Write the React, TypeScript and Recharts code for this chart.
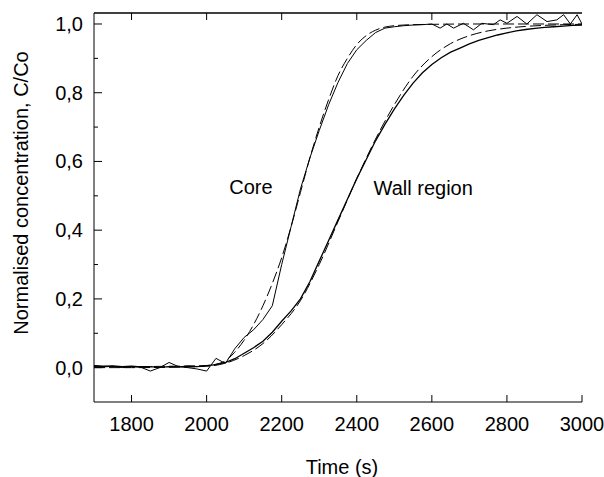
import { LineChart, Line, XAxis, YAxis, ReferenceDot } from "recharts";

// core (centre of bed) breakthrough
const coreTime = [1700, 1725, 1750, 1775, 1800, 1825, 1850, 1875, 1900, 1925, 1950, 1975, 2000, 2025, 2050, 2075, 2100, 2125, 2150, 2175, 2200, 2225, 2250, 2275, 2300, 2325, 2350, 2375, 2400, 2425, 2450, 2475, 2500, 2525, 2550, 2575, 2600, 2622, 2640, 2658, 2684, 2711, 2733, 2764, 2782, 2800, 2827, 2853, 2880, 2907, 2933, 2951, 2969, 2987, 3000];
const coreMeasured = [0.006, 0.002, 0.004, 0.0, 0.003, 0.001, -0.01, 0.0, 0.015, 0.003, 0.0, -0.004, -0.01, 0.027, 0.012, 0.055, 0.088, 0.11, 0.14, 0.18, 0.3, 0.41, 0.52, 0.61, 0.69, 0.765, 0.83, 0.885, 0.925, 0.952, 0.975, 0.988, 0.992, 0.995, 0.997, 0.998, 1.0, 0.988, 1.0, 0.988, 1.002, 0.983, 1.002, 0.998, 1.012, 1.002, 1.022, 1.0, 1.027, 1.007, 1.012, 1.027, 1.0, 1.027, 1.0];

const coreModelTime = [1700, 1800, 1900, 2000, 2025, 2050, 2075, 2100, 2125, 2150, 2175, 2200, 2225, 2250, 2275, 2300, 2325, 2350, 2375, 2400, 2425, 2450, 2475, 2500, 2525, 2550, 2600, 2700, 2800, 2900, 3000];
const coreModel = [0.003, 0.003, 0.004, 0.006, 0.01, 0.02, 0.045, 0.08, 0.125, 0.18, 0.245, 0.32, 0.41, 0.51, 0.61, 0.7, 0.78, 0.85, 0.9, 0.94, 0.966, 0.982, 0.991, 0.995, 0.997, 0.998, 0.999, 1.0, 1.0, 1.0, 1.0];

// wall region breakthrough
const wallTime = [1700, 1725, 1750, 1775, 1800, 1825, 1850, 1875, 1900, 1925, 1950, 1975, 2000, 2025, 2050, 2075, 2100, 2125, 2150, 2175, 2200, 2225, 2250, 2275, 2300, 2325, 2350, 2375, 2400, 2425, 2450, 2475, 2500, 2525, 2550, 2575, 2600, 2625, 2650, 2675, 2700, 2725, 2750, 2775, 2800, 2825, 2850, 2875, 2900, 2925, 2950, 2975, 3000];
const wallMeasured = [0.006, 0.004, 0.005, 0.003, 0.004, 0.002, 0.003, 0.001, 0.003, 0.002, 0.004, 0.003, 0.006, 0.009, 0.015, 0.026, 0.042, 0.058, 0.077, 0.103, 0.135, 0.165, 0.2, 0.25, 0.31, 0.37, 0.43, 0.49, 0.55, 0.605, 0.66, 0.708, 0.752, 0.792, 0.828, 0.858, 0.882, 0.902, 0.918, 0.93, 0.942, 0.952, 0.96, 0.968, 0.974, 0.98, 0.984, 0.987, 0.99, 0.992, 0.994, 0.996, 0.997];

const wallModelTime = [1700, 1800, 1900, 2000, 2050, 2100, 2150, 2200, 2250, 2300, 2350, 2400, 2450, 2500, 2550, 2600, 2650, 2700, 2750, 2800, 2850, 2900, 2950, 3000];
const wallModel = [0.0, 0.0, 0.001, 0.004, 0.013, 0.035, 0.07, 0.125, 0.195, 0.3, 0.425, 0.55, 0.665, 0.765, 0.848, 0.905, 0.943, 0.966, 0.98, 0.988, 0.993, 0.996, 0.998, 0.999];

const xTicks = [1800, 2000, 2200, 2400, 2600, 2800, 3000];
const topTicks = [1800, 2000, 2200, 2400, 2600, 2800];
const yTicks = [0, 0.1, 0.2, 0.3, 0.4, 0.5, 0.6, 0.7, 0.8, 0.9, 1.0];
const X_MIN = 1700;
const X_MAX = 3000;
const Y_MIN = -0.1;
const Y_MAX = 1.032;

// plot frame
const PLOT_LEFT = 94;
const PLOT_RIGHT = 582;
const PLOT_TOP = 13;
const frameX = (t: number) => PLOT_LEFT + ((t - X_MIN) / (X_MAX - X_MIN)) * (PLOT_RIGHT - PLOT_LEFT);

const toRows = (t: number[], v: number[]) => t.map((x, i) => ({ t: x, c: v[i] }));

const FONT = "Arial, 'Liberation Sans', sans-serif";

const isMajor = (v: number) => Math.round(v * 10) % 2 === 0;
const fmt = (v: number) => v.toFixed(1).replace(".", ",");

const LeftTick = (props: any) => {
  const { x, y, payload } = props;
  const major = isMajor(payload.value);
  return (
    <g>
      <line x1={x} x2={x + (major ? 8 : 4)} y1={y} y2={y} stroke="#000" strokeWidth={1} />
      {major && (
        <text x={x - 11} y={y} textAnchor="end" dominantBaseline="central" fontSize={20} fill="#000" fontFamily={FONT}>
          {fmt(payload.value)}
        </text>
      )}
    </g>
  );
};

const RightTick = (props: any) => {
  const { x, y, payload } = props;
  const major = isMajor(payload.value);
  return <line x1={x} x2={x - (major ? 8 : 4)} y1={y} y2={y} stroke="#000" strokeWidth={1} />;
};

export default function App() {
  return (
    <div style={{ position: "absolute", left: 0, top: 0, width: 604, height: 477, background: "#fff", fontFamily: FONT }}>
      <LineChart width={604} height={477} margin={{ top: PLOT_TOP, right: 604 - PLOT_RIGHT, bottom: 35, left: PLOT_LEFT - 60 }}>
        <XAxis
          xAxisId="b"
          dataKey="t"
          type="number"
          domain={[X_MIN, X_MAX]}
          allowDataOverflow
          ticks={xTicks}
          height={40}
          tickSize={-7}
          tickMargin={22}
          stroke="#000"
          tick={{ fill: "#000", fontSize: 20, fontFamily: FONT }}
        />
        <YAxis
          yAxisId="l"
          type="number"
          domain={[Y_MIN, Y_MAX]}
          allowDataOverflow
          ticks={yTicks}
          width={60}
          tickSize={0}
          tickMargin={0}
          tickLine={false}
          stroke="#000"
          tick={<LeftTick />}
        />
        <YAxis
          yAxisId="r"
          orientation="right"
          type="number"
          domain={[Y_MIN, Y_MAX]}
          allowDataOverflow
          ticks={yTicks}
          width={0}
          tickSize={0}
          tickMargin={0}
          tickLine={false}
          stroke="#000"
          tick={<RightTick />}
        />
        <Line xAxisId="b" yAxisId="l" data={toRows(coreTime, coreMeasured)} dataKey="c" type="linear" stroke="#000" strokeWidth={1} dot={false} isAnimationActive={false} />
        <Line xAxisId="b" yAxisId="l" data={toRows(coreModelTime, coreModel)} dataKey="c" type="monotone" stroke="#000" strokeWidth={1} strokeDasharray="11 4" dot={false} isAnimationActive={false} />
        <Line xAxisId="b" yAxisId="r" data={toRows(wallTime, wallMeasured)} dataKey="c" type="linear" stroke="#000" strokeWidth={1.3} dot={false} isAnimationActive={false} />
        <Line xAxisId="b" yAxisId="r" data={toRows(wallModelTime, wallModel)} dataKey="c" type="monotone" stroke="#000" strokeWidth={1} strokeDasharray="11 4" dot={false} isAnimationActive={false} />
        <ReferenceDot xAxisId="b" yAxisId="l" x={2118} y={0.526} r={1} fill="none" stroke="none"
          label={{ value: "Core", position: "center", fill: "#000", fontSize: 20, fontFamily: FONT }} />
        <ReferenceDot xAxisId="b" yAxisId="l" x={2577} y={0.524} r={1} fill="none" stroke="none"
          label={{ value: "Wall region", position: "center", fill: "#000", fontSize: 20, fontFamily: FONT }} />
      </LineChart>
      <svg width={604} height={477} style={{ position: "absolute", left: 0, top: 0, pointerEvents: "none" }}>
        {/* top edge of the frame with inward ticks */}
        <line x1={PLOT_LEFT} x2={PLOT_RIGHT} y1={PLOT_TOP} y2={PLOT_TOP} stroke="#000" strokeWidth={1.5} />
        {topTicks.map((t) => (
          <line key={t} x1={frameX(t)} x2={frameX(t)} y1={PLOT_TOP} y2={PLOT_TOP + 7} stroke="#000" strokeWidth={1} />
        ))}
        <text x={342} y={474} textAnchor="middle" fontSize={20} fill="#000" fontFamily={FONT}>Time (s)</text>
        <text x={21} y={193} transform="rotate(-90 21 193)" textAnchor="middle" dominantBaseline="central" fontSize={20} fill="#000" fontFamily={FONT}>
          Normalised concentration, C/Co
        </text>
      </svg>
    </div>
  );
}
